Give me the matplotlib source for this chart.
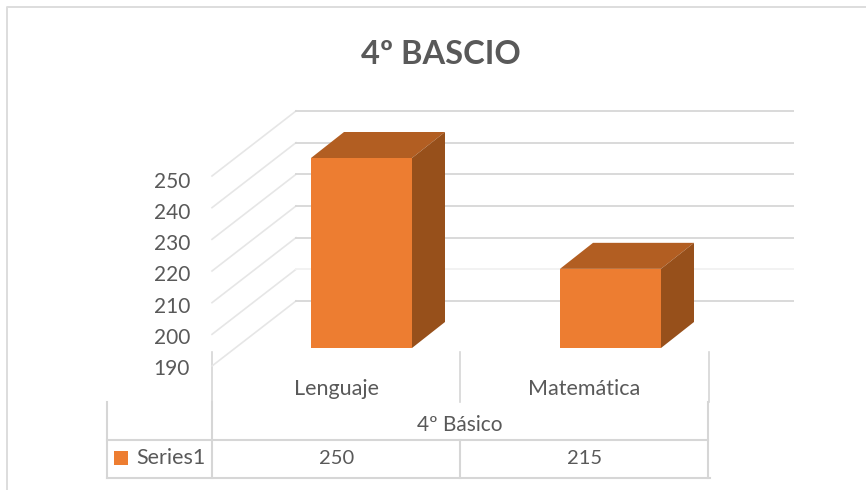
"""
4º BASCIO - gráfico de columnas 3D con tabla de datos.
"""

import matplotlib
matplotlib.use('Agg')
import matplotlib.pyplot as plt
from matplotlib.patches import Polygon, Rectangle

plt.rcParams['font.family'] = ['Lato', 'DejaVu Sans']

TITLE = '4º BASCIO'
GROUP = '4º Básico'
SERIES = 'Series1'
categories = ['Lenguaje', 'Matemática']
values = [250, 215]
y_ticks = [190, 200, 210, 220, 230, 240, 250]

ORANGE = '#ED7D31'
TOP = '#B25E22'
SIDE = '#97501B'
GRID = '#D9D9D9'
TABLE = '#D6D6D6'
TEXT = '#595959'

W, H = 866, 490

# escala del plano de las columnas: 190 -> 348 px, 250 -> 158 px
PX_PER_UNIT = (348 - 158) / 60
BASE_PX = 348


fig = plt.figure(figsize=(W / 100, H / 100), dpi=100)

# capa en pixeles para marco y tabla
bg = fig.add_axes([0, 0, 1, 1])
bg.set_xlim(0, W)
bg.set_ylim(H, 0)
bg.axis('off')

# capa de datos: x en pixeles, y en unidades del eje
ax = fig.add_axes([0, 0, 1, 1])
ax.patch.set_alpha(0)
ax.set_xlim(0, W)
ax.set_ylim(y_ticks[0] - (H - BASE_PX) / PX_PER_UNIT,
            y_ticks[0] + BASE_PX / PX_PER_UNIT)
ax.axis('off')

# --- marco: solo izquierda y arriba ---
bg.plot([7, 7, W], [H, 7, 7], color='#DDDDDD', lw=1.4)

# --- rejilla ---
front_shift = -18 / PX_PER_UNIT
back_shift = 47 / PX_PER_UNIT
for v in y_ticks:
    ax.plot([212, 296], [v + front_shift, v + back_shift],
            color='#E6E6E6', lw=1.2, zorder=1)
    ax.plot([296, 793], [v + back_shift, v + back_shift],
            color='#F2F2F2' if v == 200 else GRID, lw=1.4, zorder=1)
    # las etiquetas van un poco mas juntas que la rejilla
    bg.text(190, 369 - (v - y_ticks[0]) * 3.117, str(v), ha='right', va='center',
            fontsize=15, color=TEXT)

# --- columnas ---
bar_w = 101
dx = 33
dy = 26 / PX_PER_UNIT
base = y_ticks[0]
for i, val in enumerate(values):
    x0 = 311 + i * 249
    x1 = x0 + bar_w
    ax.bar(x0, val - base, width=bar_w, bottom=base, align='edge',
           color=ORANGE, zorder=3)
    ax.add_patch(Polygon([(x0, val), (x1, val), (x1 + dx, val + dy), (x0 + dx, val + dy)],
                         facecolor=TOP, edgecolor='none', zorder=3))
    ax.add_patch(Polygon([(x1, base), (x1 + dx, base + dy), (x1 + dx, val + dy), (x1, val)],
                         facecolor=SIDE, edgecolor='none', zorder=3))

# --- tabla de datos ---
for x in [212, 460, 709]:
    bg.plot([x, x], [352, 402], color=TABLE, lw=1.2)
for x in [107, 212, 708]:
    bg.plot([x, x], [402, 478], color=TABLE, lw=1.5)
bg.plot([460, 460], [440, 478], color=TABLE, lw=1.5)
bg.plot([107, 708], [440, 440], color=TABLE, lw=1.5)
bg.plot([107, 710], [478, 478], color=TABLE, lw=1.5)

for i, cat in enumerate(categories):
    bg.text(336 + i * 248, 389, cat, ha='center', va='center', fontsize=15.5, color=TEXT)
    bg.text(337 + i * 248, 458, str(values[i]), ha='center', va='center', fontsize=14.5, color=TEXT)
bg.text(460, 425, GROUP, ha='center', va='center', fontsize=15, color=TEXT)
bg.add_patch(Rectangle((114, 451), 14, 14, facecolor=ORANGE, edgecolor='none'))
bg.text(136, 458, SERIES, ha='left', va='center', fontsize=15.5, color=TEXT)

bg.text(441, 55, TITLE, ha='center', va='center', fontsize=23.5,
        fontweight='bold', color=TEXT)

fig.savefig('out.png', dpi=100)
plt.close(fig)
